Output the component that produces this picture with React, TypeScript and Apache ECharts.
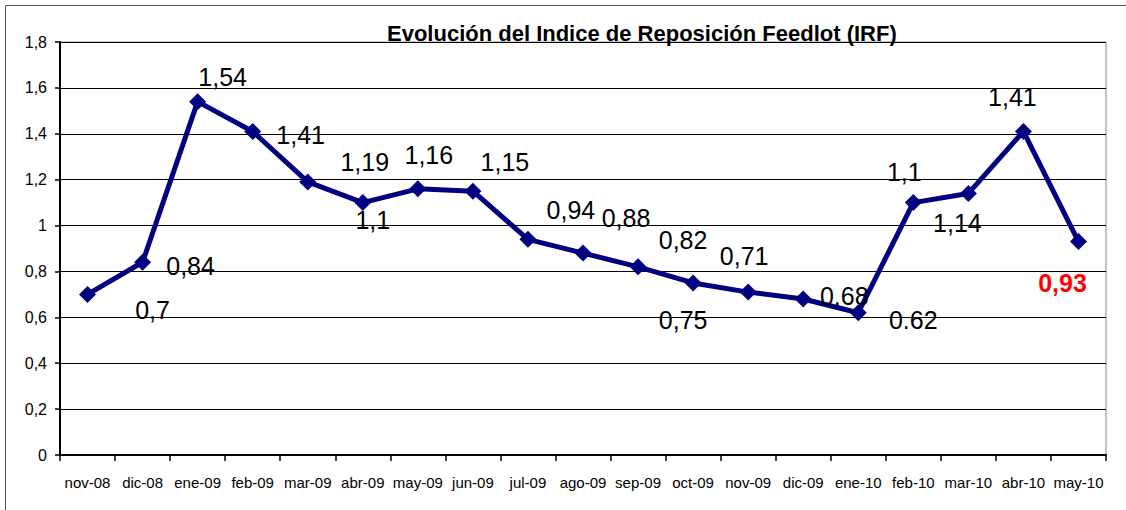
import React, { useEffect, useRef } from "react";
import * as echarts from "echarts";

const categories = [
  "nov-08", "dic-08", "ene-09", "feb-09", "mar-09", "abr-09", "may-09", "jun-09",
  "jul-09", "ago-09", "sep-09", "oct-09", "nov-09", "dic-09", "ene-10", "feb-10",
  "mar-10", "abr-10", "may-10",
];
const irfValues = [
  0.7, 0.84, 1.54, 1.41, 1.19, 1.1, 1.16, 1.15, 0.94, 0.88, 0.82, 0.75, 0.71,
  0.68, 0.62, 1.1, 1.14, 1.41, 0.93,
];
const labelTexts = [
  "0,7", "0,84", "1,54", "1,41", "1,19", "1,1", "1,16", "1,15", "0,94", "0,88",
  "0,82", "0,75", "0,71", "0,68", "0.62", "1,1", "1,14", "1,41", "0,93",
];
const yTicks = [0, 0.2, 0.4, 0.6, 0.8, 1, 1.2, 1.4, 1.6, 1.8];
const titleText = "Evolución del Indice de Reposición Feedlot (IRF)";

// label placement (layout, px offsets from marker centre)
const labelOffsets: [number, number][] = [
  [65, 16], [48, 4], [25, -25], [48, 4], [57, -20], [10, 17], [11, -34],
  [32, -29], [43, -29], [43, -35], [45, -27], [-10, 37], [-4, -36], [41, -3],
  [55, 7], [-9, -31], [-11, 30], [-11, -34], [-16, 41],
];

const FONT = "'Liberation Sans', Arial, sans-serif";

export default function App() {
  const ref = useRef<HTMLDivElement>(null);
  useEffect(() => {
    document.body.style.margin = "0";
    const chart = echarts.init(ref.current!, null, { renderer: "svg" });
    const lastIdx = irfValues.length - 1;
    chart.setOption({
      animation: false,
      backgroundColor: "#ffffff",
      textStyle: { fontFamily: FONT },
      title: {
        text: titleText,
        left: 382,
        top: 17,
        textStyle: { fontFamily: FONT, fontSize: 22, fontWeight: "bold", color: "#000" },
      },
      graphic: [
        {
          type: "rect",
          shape: { x: 5.5, y: 5.5, width: 1140, height: 520 },
          style: { fill: "none", stroke: "#555", lineWidth: 1 },
          silent: true,
        },
      ],
      grid: { left: 60, top: 42, right: 20, bottom: 55, show: true, borderColor: "#888", borderWidth: 1 },
      xAxis: {
        type: "category",
        data: categories,
        boundaryGap: true,
        axisLine: { lineStyle: { color: "#000", width: 2 } },
        axisTick: { show: true, alignWithLabel: false, length: 6, lineStyle: { color: "#000", width: 1.5 } },
        axisLabel: { color: "#000", fontSize: 15, margin: 20, fontFamily: FONT, interval: 0 },
      },
      yAxis: {
        type: "value",
        min: 0,
        max: 1.8,
        interval: 0.2,
        axisLine: { show: true, lineStyle: { color: "#000", width: 2 } },
        axisTick: { show: true, length: 5, lineStyle: { color: "#000", width: 1.5 } },
        splitLine: { show: true, lineStyle: { color: "#000", width: 1 } },
        axisLabel: {
          color: "#000",
          fontSize: 16,
          margin: 13,
          fontFamily: FONT,
          formatter: (v: number) => {
            const t = yTicks.find((x) => Math.abs(x - v) < 1e-6);
            return String(Math.round((t ?? v) * 10) / 10).replace(".", ",");
          },
        },
      },
      series: [
        {
          type: "line",
          data: irfValues.map((v, i) => ({
            value: v,
            label: {
              show: true,
              position: "inside",
              offset: labelOffsets[i],
              formatter: labelTexts[i],
              fontSize: 25,
              fontFamily: FONT,
              color: i === lastIdx ? "#ff0000" : "#000",
              fontWeight: i === lastIdx ? "bold" : "normal",
            },
          })),
          symbol: "diamond",
          symbolSize: 17,
          showAllSymbol: true,
          lineStyle: { color: "#000080", width: 5 },
          itemStyle: { color: "#000080" },
          z: 3,
        },
      ],
    });
    return () => chart.dispose();
  }, []);
  return <div ref={ref} style={{ width: 1126, height: 510 }} />;
}
